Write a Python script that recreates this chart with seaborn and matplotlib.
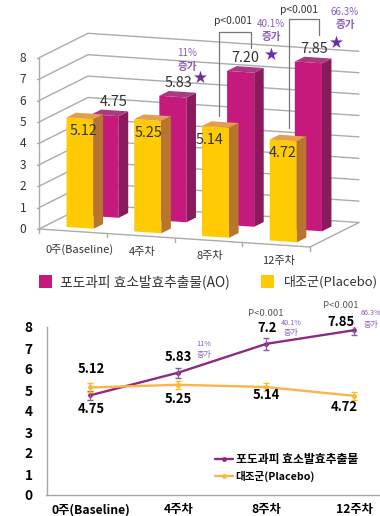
import matplotlib
matplotlib.use("Agg")
import matplotlib.pyplot as plt
import pandas as pd
import seaborn as sns
from matplotlib.patches import Polygon, Rectangle
from matplotlib.transforms import Affine2D

sns.set_theme(style="white")
plt.rcParams["font.family"] = ["Noto Sans CJK KR", "DejaVu Sans"]

weeks_short = ["0주(Baseline)", "4주차", "8주차", "12주차"]
extract_values = [4.75, 5.83, 7.20, 7.85]
placebo_values = [5.12, 5.25, 5.14, 4.72]
extract_err = [0.22, 0.24, 0.28, 0.22]
placebo_err = [0.21, 0.20, 0.17, 0.18]
axis_values = list(range(9))
extract_name_top = "포도과피 효소발효추출물(AO)"
placebo_name = "대조군(Placebo)"
extract_name_low = "포도과피 효소발효추출물"

MAGENTA, MAGENTA_SIDE, MAGENTA_TOP = "#C6197C", "#8A1A5C", "#A83A82"
YELLOW, YELLOW_SIDE, YELLOW_TOP = "#FFCB05", "#B8752F", "#E0A050"
GRID = "#ABABAB"
NOTE = "#8A5CB8"
STAR = "#6A2FA0"
TEXT = "#333333"

fig = plt.figure(figsize=(3.80, 5.16), dpi=100, facecolor="white")


def overlay(z):
    """Full-figure axes whose data units are figure pixels, y pointing down."""
    a = fig.add_axes([0, 0, 1, 1], zorder=z, facecolor="none")
    a.set_xlim(0, 380)
    a.set_ylim(516, 0)
    a.axis("off")
    return a


back = overlay(0)
front = overlay(3)

# Oblique projection of the 3D chart: category, value and depth axes in pixels.
ORIGIN = (39.0, 229.0)
CAT = (67.75, 4.5)
VAL = (0.0, -21.4)
DEPTH = (49.0, -24.5)


def project(c, v, d=0.0):
    return (ORIGIN[0] + CAT[0] * c + VAL[0] * v + DEPTH[0] * d,
            ORIGIN[1] + CAT[1] * c + VAL[1] * v + DEPTH[1] * d)


def plane(d):
    ox, oy = project(0, 0, d)
    return Affine2D.from_values(CAT[0], CAT[1], VAL[0], VAL[1], ox, oy) + back.transData


# Walls and floor
for v in axis_values:
    p0, p1, p2 = project(0, v), project(0, v, 1), project(4, v, 1)
    back.plot([p0[0], p1[0], p2[0]], [p0[1], p1[1], p2[1]], color=GRID, lw=1.0, solid_joinstyle="miter")
    back.plot([p0[0] - 2.5, p0[0]], [p0[1], p0[1]], color=GRID, lw=1.0)
    back.text(23, p0[1] + 0.5, str(v), ha="center", va="center", fontsize=8.6, color=TEXT)
p_a, p_b = project(0, 8), project(0, 0)
back.plot([p_a[0], p_b[0]], [p_a[1], p_b[1]], color=GRID, lw=1.0)
p_a, p_b, p_c = project(0, 0), project(4, 0), project(4, 0, 1)
back.plot([p_a[0], p_b[0], p_c[0]], [p_a[1], p_b[1], p_c[1]], color=GRID, lw=1.0)
for c in range(5):
    tx, ty = project(c, 0)
    back.plot([tx, tx], [ty, ty + 3.5], color=GRID, lw=1.0)

# Bars: seaborn builds the front faces, which are then sheared into the projection.
bars_ax = fig.add_axes([0, 0, 1, 1], zorder=1, facecolor="none")
bars_ax.axis("off")
BAR_W, BAR_D = 0.40, 0.194
series = [
    (extract_values, MAGENTA, MAGENTA_SIDE, MAGENTA_TOP, 0.346, 0.595),
    (placebo_values, YELLOW, YELLOW_SIDE, YELLOW_TOP, 0.306, 0.138),
]
for values, col, side, top, c_left, d0 in series:
    frame = pd.DataFrame({"week": weeks_short, "score": values})
    before = len(bars_ax.patches)
    sns.barplot(data=frame, x="week", y="score", color=col, saturation=1,
                width=BAR_W, order=weeks_short, ax=bars_ax)
    new_bars = bars_ax.patches[before:]
    c_shift = c_left + BAR_W / 2
    to_screen = Affine2D().translate(c_shift, 0) + plane(d0)
    for bar in new_bars:
        bar.set_transform(to_screen)
        bar.set_clip_on(False)
        bar.set_edgecolor("none")
        c0 = bar.get_x() + c_shift
        c1 = c0 + BAR_W
        h = bar.get_height()
        d1 = d0 + BAR_D
        bars_ax.add_patch(Polygon([project(c1, 0, d0), project(c1, h, d0), project(c1, h, d1), project(c1, 0, d1)],
                                  closed=True, fc=side, ec="none", transform=back.transData, clip_on=False, zorder=2))
        bars_ax.add_patch(Polygon([project(c0, h, d0), project(c1, h, d0), project(c1, h, d1), project(c0, h, d1)],
                                  closed=True, fc=top, ec="none", transform=back.transData, clip_on=False, zorder=2))
bars_ax.axis("off")

# Value labels on the bars
for i, v in enumerate(extract_values):
    lx = [114, 179, 245, 314][i]
    front.text(lx, project(i + 0.346, v, 0.595)[1] - 12.5, f"{v:.2f}", ha="center", va="center",
               fontsize=10.4, color=TEXT)
for i, v in enumerate(placebo_values):
    lx = [84, 149, 210, 283][i]
    front.text(lx, project(i + 0.306, v, 0.138)[1] + 14, f"{v:.2f}", ha="center", va="center",
               fontsize=10.4, color=TEXT)

# Significance brackets, increase notes and stars
for xs, ys, tx, ty in [((219, 219, 251, 251), (116, 32, 32, 48), 233, 21),
                       ((289, 289, 319, 319), (128, 19, 19, 35), 299, 10)]:
    front.plot(xs, ys, color="#777777", lw=0.9)
    front.text(tx, ty, "p<0.001", ha="center", va="center", fontsize=7.4, color=TEXT)
for x, y1, y2, pct in [(187, 53, 67, "11%"), (271, 24, 37, "40.1%"), (345, 12, 25, "66.3%")]:
    front.text(x, y1, pct, ha="center", va="center", fontsize=7, color=NOTE)
    front.text(x, y2, "증가", ha="center", va="center", fontsize=7.6, color=NOTE, fontweight="bold")
front.scatter([200, 271, 336], [77, 54, 42], marker="*", s=95, color=STAR, linewidths=0)

# Category labels and legend of the 3D chart
for x, y, lab in zip([80, 142, 210, 279], [250, 252, 256, 261], weeks_short):
    front.text(x, y, lab, ha="center", va="center", fontsize=8, color=TEXT)
front.add_patch(Rectangle((39, 275), 13, 13, fc=MAGENTA, ec="none"))
front.add_patch(Rectangle((261, 275), 13, 13, fc=YELLOW, ec="none"))
front.text(60, 282, extract_name_top, ha="left", va="center", fontsize=9.9, color=TEXT)
front.text(284, 282, placebo_name, ha="left", va="center", fontsize=9.4, color=TEXT)

# Line chart
L, R, T, B = 46.5, 380, 327, 495
ax = fig.add_axes([L / 380, 1 - B / 516, (R - L) / 380, (B - T) / 516], zorder=2, facecolor="none")
LINE_PURPLE, LINE_ORANGE = "#8E2A80", "#F9B44E"
long_form = pd.DataFrame({
    "week": list(range(4)) * 2,
    "score": extract_values + placebo_values,
    "group": [extract_name_low] * 4 + [placebo_name] * 4,
})
sns.lineplot(data=long_form, x="week", y="score", hue="group", marker="o", markersize=3.5,
             markeredgewidth=0, linewidth=1.7, errorbar=None,
             palette={extract_name_low: LINE_PURPLE, placebo_name: LINE_ORANGE}, ax=ax)
ax.errorbar(range(4), extract_values, yerr=extract_err, fmt="none", ecolor="#8A5AA5", elinewidth=0.9, capsize=2.4)
ax.errorbar(range(4), placebo_values, yerr=placebo_err, fmt="none", ecolor="#FFC000", elinewidth=0.9, capsize=2.4)
ax.set_xlim(-0.50, 3.29)
ax.set_ylim(0, 8)
ax.set_xticks(range(4), weeks_short, fontsize=8.8, fontweight="bold", color="black")
ax.set_yticks(axis_values, [str(v) for v in axis_values], fontsize=9.8, fontweight="bold", color="black")
ax.tick_params(axis="y", length=0, pad=10)
ax.tick_params(axis="x", length=0, pad=6)
ax.set_xlabel("")
ax.set_ylabel("")
for name in ("top", "right"):
    ax.spines[name].set_visible(False)
for name in ("left", "bottom"):
    ax.spines[name].set_color("#A6A6A6")
    ax.spines[name].set_linewidth(1.0)
leg = ax.legend(loc="lower left", bbox_to_anchor=(0.505, 0.075), frameon=False, fontsize=7.8,
                handlelength=1.7, handletextpad=0.2, labelspacing=0.5, borderpad=0, borderaxespad=0)
for t, size in zip(leg.get_texts(), [8.5, 7.6]):
    t.set_fontweight("bold")
    t.set_color("black")
    t.set_fontsize(size)

# Line chart annotations, in pixel units
for x, y, v in zip([91, 178, 267, 341], [369, 357, 328, 322], ["5.12", "5.83", "7.2", "7.85"]):
    front.text(x, y, v, ha="center", va="center", fontsize=9.4, fontweight="bold", color="black")
for x, y, v in zip([91, 178, 266, 344], [409, 399, 395, 407], ["4.75", "5.25", "5.14", "4.72"]):
    front.text(x, y, v, ha="center", va="center", fontsize=9.4, fontweight="bold", color="black")
front.text(266, 313, "P<0.001", ha="center", va="center", fontsize=6.8, color="#555555")
front.text(341, 306, "P<0.001", ha="center", va="center", fontsize=6.8, color="#555555")
for x, y1, y2, pct in [(204, 344, 355, "11%"), (291, 323, 333, "40.1%"), (371, 313, 324, "66.3%")]:
    front.text(x, y1, pct, ha="center", va="center", fontsize=5.2, color=NOTE)
    front.text(x, y2, "증가", ha="center", va="center", fontsize=5.8, color=NOTE)

fig.savefig("out.png", dpi=100)
